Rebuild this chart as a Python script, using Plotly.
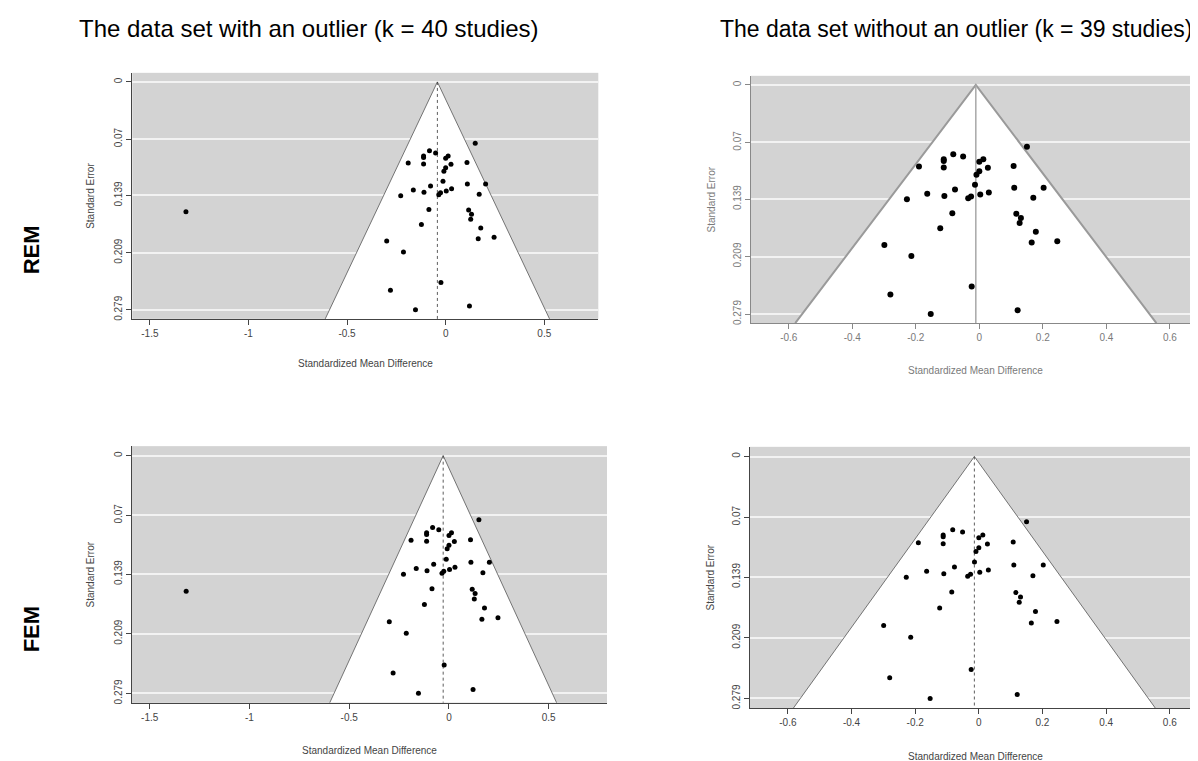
import plotly.graph_objects as go

W, H = 1198, 761

# ---- data ----
smd = [0.150, -0.082, -0.051, -0.112, -0.112, 0.0126, 0.0, -0.190, -0.112, 0.108,
       0.027, 0.0, -0.009, -0.0136, 0.110, 0.2025, -0.0766, -0.164, -0.110, 0.003,
       0.030, -0.035, -0.026, -0.228, 0.170, -0.085, 0.1165, 0.131, 0.127, -0.123,
       0.178, 0.165, 0.2455, -0.299, -0.214, -0.024, -0.280, 0.1207, -0.153]
se = [0.0752, 0.0844, 0.0871, 0.0906, 0.0925, 0.0906, 0.0936, 0.0994, 0.1005, 0.0986,
      0.1009, 0.1051, 0.1094, 0.1216, 0.1251, 0.1251, 0.1274, 0.1324, 0.1351, 0.1335,
      0.1309, 0.1381, 0.1358, 0.1393, 0.1374, 0.1562, 0.1569, 0.1619, 0.1681, 0.1746,
      0.1788, 0.1919, 0.1903, 0.1949, 0.2084, 0.2456, 0.2552, 0.2744, 0.279]
outlier_smd = [-1.317]
outlier_se = [0.159]

est_rem_with = -0.042
est_fem_with = -0.029
est_rem_without = -0.011
est_fem_without = -0.014

y_ticks = [0, 0.07, 0.139, 0.209, 0.279]
y_ticklabels = ["0", "0.07", "0.139", "0.209", "0.279"]
x_ticks_left = [-1.5, -1, -0.5, 0, 0.5]
x_ticklabels_left = ["-1.5", "-1", "-0.5", "0", "0.5"]
x_ticks_right = [-0.6, -0.4, -0.2, 0, 0.2, 0.4, 0.6]
x_ticklabels_right = ["-0.6", "-0.4", "-0.2", "0", "0.2", "0.4", "0.6"]

col_titles = ["The data set with an outlier (k = 40 studies)",
              "The data set without an outlier (k = 39 studies)"]
row_titles = ["REM", "FEM"]
x_title = "Standardized Mean Difference"
y_title = "Standard Error"

FONT = "Liberation Sans, Arial, sans-serif"

se_max = max(se)
y_lo = -0.04 * se_max
y_hi = se_max * 1.04

# panels: pixel box (left, right, top, bottom), x-range, estimate, outlier flag, style
panels = [
    dict(box=(124.3, 590.3, 65, 311.7), xr=[-1.589, 0.774], est=est_rem_with, outl=True,
         xt=(x_ticks_left, x_ticklabels_left), style="std", xtit_dy=45, ytit_x=83),
    dict(box=(743, 1192, 68, 316), xr=[-0.719, 0.695], est=est_rem_without, outl=False,
         xt=(x_ticks_right, x_ticklabels_right), style="soft", xtit_dy=47, ytit_x=703),
    dict(box=(123.7, 599, 439.3, 696.7), xr=[-1.590, 0.792], est=est_fem_with, outl=True,
         xt=(x_ticks_left, x_ticklabels_left), style="std", xtit_dy=48, ytit_x=83),
    dict(box=(742, 1192, 440, 702), xr=[-0.719, 0.695], est=est_fem_without, outl=False,
         xt=(x_ticks_right, x_ticklabels_right), style="std", xtit_dy=48, ytit_x=702),
]

fig = go.Figure()
annotations = []
layout_axes = {}

for i, p in enumerate(panels, start=1):
    L, R, T, B = p["box"]
    xa = "x" if i == 1 else f"x{i}"
    ya = "y" if i == 1 else f"y{i}"
    soft = p["style"] == "soft"
    edge_col = "#9a9a9a" if soft else "#555555"
    edge_w = 2 if soft else 0.8
    axis_col = "#888888" if soft else "#444444"
    text_col = "#7a7a7a" if soft else "#444444"

    est = p["est"]
    half = 1.96 * y_hi
    # funnel (white region)
    fig.add_trace(go.Scatter(
        x=[est - half, est, est + half],
        y=[y_hi, 0, y_hi],
        mode="lines", fill="toself", fillcolor="white",
        line=dict(color=edge_col, width=edge_w),
        xaxis=xa, yaxis=ya, hoverinfo="skip", showlegend=False))
    # center line
    fig.add_trace(go.Scatter(
        x=[est, est], y=[0, y_hi], mode="lines",
        line=dict(color="#a8a8a8" if soft else "#333333", width=1.5 if soft else 0.8,
                  dash="solid" if soft else "dot"),
        xaxis=xa, yaxis=ya, hoverinfo="skip", showlegend=False))
    # points
    xs = (outlier_smd + smd) if p["outl"] else smd
    ys = (outlier_se + se) if p["outl"] else se
    fig.add_trace(go.Scatter(
        x=xs, y=ys, mode="markers",
        marker=dict(color="black", size=6 if soft else 5),
        xaxis=xa, yaxis=ya, showlegend=False))

    xkey = "xaxis" if i == 1 else f"xaxis{i}"
    ykey = "yaxis" if i == 1 else f"yaxis{i}"
    layout_axes[xkey] = dict(
        domain=[L / W, R / W], anchor=ya, range=p["xr"],
        tickvals=p["xt"][0], ticktext=p["xt"][1],
        showgrid=False, zeroline=False, showline=True, linecolor=axis_col, linewidth=1,
        ticks="outside", ticklen=5, tickcolor=axis_col, tickwidth=1,
        tickfont=dict(family=FONT, size=10, color=text_col))
    layout_axes[ykey] = dict(
        domain=[1 - B / H, 1 - T / H], anchor=xa, range=[y_hi, y_lo],
        tickvals=y_ticks, ticktext=y_ticklabels, tickangle=-90,
        showgrid=True, gridcolor="#f2f2f2", gridwidth=1.5,
        zeroline=False, showline=True, linecolor=axis_col, linewidth=1,
        ticks="outside", ticklen=5, tickcolor=axis_col, tickwidth=1,
        tickfont=dict(family=FONT, size=10, color=text_col))

    # axis titles
    annotations.append(dict(
        text=x_title, xref="paper", yref="paper",
        x=(L + R) / 2 / W, y=1 - (B + p["xtit_dy"]) / H,
        showarrow=False, xanchor="center", yanchor="middle",
        font=dict(family=FONT, size=10, color=text_col)))
    annotations.append(dict(
        text=y_title, xref="paper", yref="paper",
        x=p["ytit_x"] / W, y=1 - (T + B) / 2 / H, textangle=-90,
        showarrow=False, xanchor="center", yanchor="middle",
        font=dict(family=FONT, size=10, color=text_col)))

# column titles
annotations.append(dict(
    text=col_titles[0], xref="paper", yref="paper", x=300.5 / W, y=1 - 21 / H,
    showarrow=False, xanchor="center", yanchor="middle",
    font=dict(family=FONT, size=24, color="black")))
annotations.append(dict(
    text=col_titles[1], xref="paper", yref="paper", x=1186 / W, y=1 - 21 / H,
    showarrow=False, xanchor="right", yanchor="middle",
    font=dict(family=FONT, size=23, color="black")))
# row titles
for txt, cy in zip(row_titles, [243, 623]):
    annotations.append(dict(
        text=f"<b>{txt}</b>", xref="paper", yref="paper", x=23 / W, y=1 - cy / H,
        textangle=-90, showarrow=False, xanchor="center", yanchor="middle",
        font=dict(family=FONT, size=22, color="black")))

fig.update_layout(
    width=W, height=H,
    margin=dict(l=0, r=0, t=0, b=0),
    paper_bgcolor="white", plot_bgcolor="#d3d3d3",
    annotations=annotations,
    showlegend=False,
    **layout_axes)

fig.write_html("out.html")
